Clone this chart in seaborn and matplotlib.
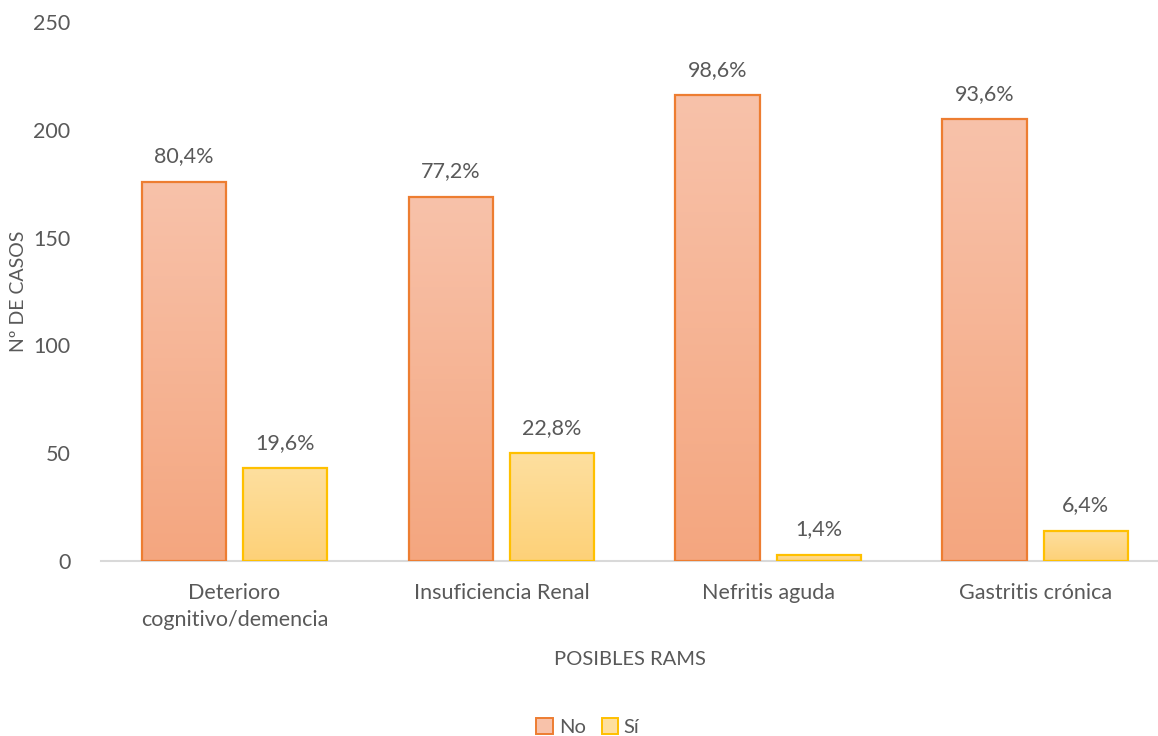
import numpy as np
import pandas as pd
import matplotlib
matplotlib.use("Agg")
import matplotlib.pyplot as plt
from matplotlib.colors import LinearSegmentedColormap
from matplotlib.patches import Patch
import seaborn as sns

categories = ["Deterioro\ncognitivo/demencia", "Insuficiencia Renal", "Nefritis aguda", "Gastritis crónica"]
series = ["No", "Sí"]
no_values = [176, 169, 216, 205]
si_values = [43, 50, 3, 14]
no_labels = ["80,4%", "77,2%", "98,6%", "93,6%"]
si_labels = ["19,6%", "22,8%", "1,4%", "6,4%"]

df = pd.DataFrame({
    "categoria": categories * 2,
    "respuesta": ["No"] * 4 + ["Sí"] * 4,
    "casos": no_values + si_values,
})

sns.set_theme(style="white")
plt.rcParams["font.family"] = ["Lato", "DejaVu Sans"]
text_gray = "#595959"

edge_colors = {"No": "#ED7D31", "Sí": "#FFC000"}
grad_top = {"No": "#F8C2AA", "Sí": "#FEDF9F"}
grad_bottom = {"No": "#F4A67F", "Sí": "#FDD178"}

fig = plt.figure(figsize=(11.58, 7.36), dpi=100)
ax = fig.add_axes([101 / 1158, 1 - 561 / 736, 1057 / 1158, (561 - 22) / 736])

sns.barplot(data=df, x="categoria", y="casos", hue="respuesta", order=categories,
            hue_order=series, width=0.76, gap=0.17, palette=edge_colors,
            legend=False, ax=ax, zorder=2)

# Gradient fill for each bar, clipped to the bar rectangle
for container, name, labels in zip(ax.containers, series, [no_labels, si_labels]):
    cmap = LinearSegmentedColormap.from_list(name, [grad_bottom[name], grad_top[name]])
    for bar in container.patches:
        x0, w, h = bar.get_x(), bar.get_width(), bar.get_height()
        grad = np.linspace(0, 1, 256).reshape(-1, 1)
        im = ax.imshow(grad, cmap=cmap, aspect="auto", origin="lower",
                       extent=[x0, x0 + w, 0, h], zorder=2)
        im.set_clip_path(bar)
        bar.set_facecolor("none")
        bar.set_edgecolor(edge_colors[name])
        bar.set_linewidth(1.6)
        bar.set_zorder(3)
    ax.bar_label(container, labels=labels, padding=11, fontsize=15.5, color=text_gray)

ax.set_aspect("auto")
ax.set_xlim(-0.5, 3.46)
ax.set_ylim(0, 250)
ax.set_yticks([0, 50, 100, 150, 200, 250])

for s in ["top", "right", "left"]:
    ax.spines[s].set_visible(False)
ax.spines["bottom"].set_color("#D9D9D9")
ax.spines["bottom"].set_linewidth(1.5)
ax.spines["bottom"].set_zorder(1)

ax.tick_params(axis="y", length=0, pad=22, labelsize=15.5, labelcolor=text_gray)
ax.tick_params(axis="x", length=0, pad=16, labelsize=15.5, labelcolor=text_gray)
for t in ax.get_xticklabels():
    t.set_linespacing(1.45)

ax.set_xlabel("POSIBLES RAMS", fontsize=14.5, color=text_gray, labelpad=15)
ax.set_ylabel("Nº DE CASOS", fontsize=14, color=text_gray)
ax.yaxis.set_label_coords(-0.07, 0.5)

handles = [Patch(facecolor=grad_top[n], edgecolor=edge_colors[n], linewidth=1.4, label=n) for n in series]
fig.legend(handles=handles, loc="center", bbox_to_anchor=(588 / 1158, 1 - 727 / 736), ncol=2,
           frameon=False, fontsize=14.5, labelcolor=text_gray, handlelength=0.8, handleheight=0.8,
           handletextpad=0.3, columnspacing=0.8)

fig.savefig("out.png", dpi=100)
